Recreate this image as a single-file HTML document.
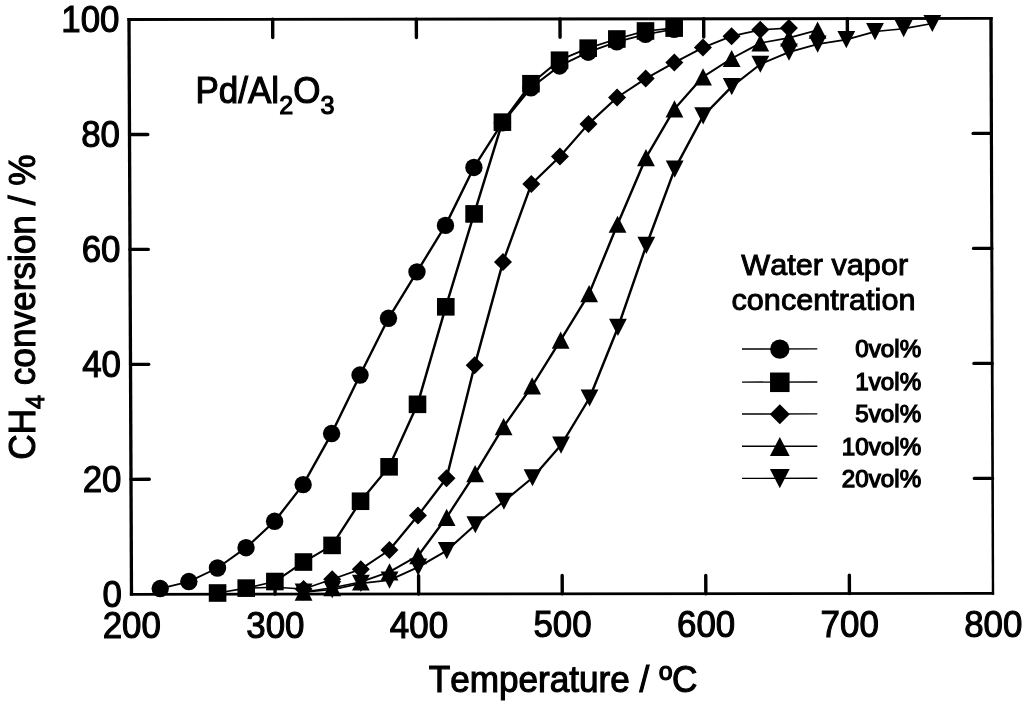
<!DOCTYPE html>
<html lang="en"><head><meta charset="utf-8"><title>CH4 conversion vs temperature over Pd/Al2O3</title>
<style>html,body{margin:0;padding:0;background:#fff}body{width:1024px;height:704px;overflow:hidden}svg{display:block;filter:blur(0.45px)}text{font-kerning:none;font-family:"Liberation Sans",sans-serif;fill:#000;stroke:#000;stroke-width:1.0px}</style></head><body>
<svg width="1024" height="704" viewBox="0 0 1024 704">
<rect x="0" y="0" width="1024" height="704" fill="#fff"/>
<g fill="#000"><polygon points="127.4,18.05 992.6,16.95 992.6,19.85 127.4,20.95"/><polygon points="129.9,592.95 994.1,592.1 994.1,594.7 129.9,595.65"/><polygon points="127.35,18.1 130.65,18.1 133.15,595.6 129.85,595.6"/><polygon points="989.3,17 992.7,17 994.2,594.7 991.8,594.7"/></g>
<g stroke="#000" stroke-width="3.4" stroke-linecap="round" fill="none"><line x1="272.67" y1="19.32" x2="272.74" y2="37.61"/><line x1="275.08" y1="594.15" x2="275.01" y2="575.86"/><line x1="416.33" y1="19.13" x2="416.41" y2="37.43"/><line x1="418.67" y1="594" x2="418.59" y2="575.7"/><line x1="560" y1="18.95" x2="560.07" y2="37.25"/><line x1="562.25" y1="593.85" x2="562.18" y2="575.55"/><line x1="703.67" y1="18.77" x2="703.74" y2="37.06"/><line x1="705.83" y1="593.7" x2="705.76" y2="575.4"/><line x1="847.33" y1="18.58" x2="847.4" y2="36.88"/><line x1="849.42" y1="593.55" x2="849.35" y2="575.25"/><line x1="131" y1="479.34" x2="149.29" y2="479.32"/><line x1="992.6" y1="478.4" x2="974.31" y2="478.42"/><line x1="130.5" y1="364.38" x2="148.79" y2="364.36"/><line x1="992.2" y1="363.4" x2="973.91" y2="363.42"/><line x1="130" y1="249.42" x2="148.3" y2="249.4"/><line x1="991.8" y1="248.4" x2="973.5" y2="248.42"/><line x1="129.5" y1="134.46" x2="147.8" y2="134.44"/><line x1="991.4" y1="133.4" x2="973.1" y2="133.42"/></g>
<g fill="none" stroke="#000" stroke-linecap="round"><path stroke-width="1.74" d="M160.21 588.53L188.86 581.53"/><path stroke-width="1.93" d="M188.86 581.53L217.47 568"/><path stroke-width="2.08" d="M217.47 568L246.05 547.69"/><path stroke-width="2.18" d="M246.05 547.69L274.62 521.31"/><path stroke-width="2.29" d="M274.62 521.31L303.14 484.61"/><path stroke-width="2.37" d="M303.14 484.61L331.6 433.57"/><path stroke-width="2.4" d="M331.6 433.57L360.03 375.07"/><path stroke-width="2.39" d="M360.03 375.07L388.48 318.29"/><path stroke-width="2.35" d="M388.48 318.29L416.97 271.84"/><path stroke-width="2.35" d="M416.97 271.84L445.46 225.39"/><path stroke-width="2.4" d="M445.46 225.39L473.91 167.46"/><path stroke-width="2.34" d="M473.91 167.46L502.42 122.73"/><path stroke-width="2.27" d="M502.42 122.73L530.96 87.75"/><path stroke-width="2.11" d="M530.96 87.75L559.56 65.95"/><path stroke-width="1.93" d="M559.56 65.95L588.2 52.19"/><path stroke-width="1.84" d="M588.2 52.19L616.84 41.87"/><path stroke-width="1.75" d="M616.84 41.87L645.5 34.41"/><path stroke-width="1.68" d="M645.5 34.41L674.17 29.25"/></g><g fill="#000"><circle cx="160.21" cy="588.53" r="8.7"/><circle cx="188.86" cy="581.53" r="8.7"/><circle cx="217.47" cy="568" r="8.7"/><circle cx="246.05" cy="547.69" r="8.7"/><circle cx="274.62" cy="521.31" r="8.7"/><circle cx="303.14" cy="484.61" r="8.7"/><circle cx="331.6" cy="433.57" r="8.7"/><circle cx="360.03" cy="375.07" r="8.7"/><circle cx="388.48" cy="318.29" r="8.7"/><circle cx="416.97" cy="271.84" r="8.7"/><circle cx="445.46" cy="225.39" r="8.7"/><circle cx="473.91" cy="167.46" r="8.7"/><circle cx="502.42" cy="122.73" r="8.7"/><circle cx="530.96" cy="87.75" r="8.7"/><circle cx="559.56" cy="65.95" r="8.7"/><circle cx="588.2" cy="52.19" r="8.7"/><circle cx="616.84" cy="41.87" r="8.7"/><circle cx="645.5" cy="34.41" r="8.7"/><circle cx="674.17" cy="29.25" r="8.7"/></g>
<g fill="none" stroke="#000" stroke-linecap="round"><path stroke-width="1.67" d="M217.58 593L246.23 588.13"/><path stroke-width="1.72" d="M246.23 588.13L274.87 581.53"/><path stroke-width="2.06" d="M274.87 581.53L303.46 562.03"/><path stroke-width="2" d="M303.46 562.03L332.06 545.4"/><path stroke-width="2.34" d="M332.06 545.4L360.55 501.24"/><path stroke-width="2.27" d="M360.55 501.24L389.09 466.83"/><path stroke-width="2.41" d="M389.09 466.83L417.51 404.32"/><path stroke-width="2.46" d="M417.51 404.32L445.79 306.82"/><path stroke-width="2.46" d="M445.79 306.82L474.1 213.92"/><path stroke-width="2.46" d="M474.1 213.92L502.41 122.16"/><path stroke-width="2.3" d="M502.41 122.16L530.95 83.73"/><path stroke-width="2.14" d="M530.95 83.73L559.54 60.22"/><path stroke-width="1.89" d="M559.54 60.22L588.18 48.17"/><path stroke-width="1.81" d="M588.18 48.17L616.83 39"/><path stroke-width="1.77" d="M616.83 39L645.49 30.97"/><path stroke-width="1.6" d="M645.49 30.97L674.16 28.1"/></g><g fill="#000"><rect x="208.78" y="584.2" width="17.6" height="17.6"/><rect x="237.43" y="579.33" width="17.6" height="17.6"/><rect x="266.07" y="572.73" width="17.6" height="17.6"/><rect x="294.66" y="553.23" width="17.6" height="17.6"/><rect x="323.26" y="536.6" width="17.6" height="17.6"/><rect x="351.75" y="492.44" width="17.6" height="17.6"/><rect x="380.29" y="458.03" width="17.6" height="17.6"/><rect x="408.71" y="395.52" width="17.6" height="17.6"/><rect x="436.99" y="298.02" width="17.6" height="17.6"/><rect x="465.3" y="205.12" width="17.6" height="17.6"/><rect x="493.61" y="113.36" width="17.6" height="17.6"/><rect x="522.15" y="74.93" width="17.6" height="17.6"/><rect x="550.74" y="51.42" width="17.6" height="17.6"/><rect x="579.38" y="39.37" width="17.6" height="17.6"/><rect x="608.03" y="30.2" width="17.6" height="17.6"/><rect x="636.69" y="22.17" width="17.6" height="17.6"/><rect x="665.36" y="19.3" width="17.6" height="17.6"/></g>
<g fill="none" stroke="#000" stroke-linecap="round"><path stroke-width="1.53" d="M246.23 588.13L274.89 587.26"/><path stroke-width="1.56" d="M274.89 587.26L303.57 588.99"/><path stroke-width="1.82" d="M303.57 588.99L332.2 579.24"/><path stroke-width="1.83" d="M332.2 579.24L360.83 569.2"/><path stroke-width="2.06" d="M360.83 569.2L389.42 549.99"/><path stroke-width="2.27" d="M389.42 549.99L417.96 515.58"/><path stroke-width="2.29" d="M417.96 515.58L446.48 478.3"/><path stroke-width="2.47" d="M446.48 478.3L474.7 365.32"/><path stroke-width="2.46" d="M474.7 365.32L502.97 262.09"/><path stroke-width="2.44" d="M502.97 262.09L531.34 184.09"/><path stroke-width="2.19" d="M531.34 184.09L559.92 156.57"/><path stroke-width="2.25" d="M559.92 156.57L588.47 123.88"/><path stroke-width="2.18" d="M588.47 123.88L617.06 97.5"/><path stroke-width="2.05" d="M617.06 97.5L645.67 78.57"/><path stroke-width="1.99" d="M645.67 78.57L674.29 62.51"/><path stroke-width="1.96" d="M674.29 62.51L702.92 47.6"/><path stroke-width="1.87" d="M702.92 47.6L731.57 36.13"/><path stroke-width="1.71" d="M731.57 36.13L760.23 29.82"/><path stroke-width="1.56" d="M760.23 29.82L788.91 28.1"/></g><g fill="#000"><polygon points="303.57,579.99 312.57,588.99 303.57,597.99 294.57,588.99"/><polygon points="332.2,570.24 341.2,579.24 332.2,588.24 323.2,579.24"/><polygon points="360.83,560.2 369.83,569.2 360.83,578.2 351.83,569.2"/><polygon points="389.42,540.99 398.42,549.99 389.42,558.99 380.42,549.99"/><polygon points="417.96,506.58 426.96,515.58 417.96,524.58 408.96,515.58"/><polygon points="446.48,469.3 455.48,478.3 446.48,487.3 437.48,478.3"/><polygon points="474.7,356.32 483.7,365.32 474.7,374.32 465.7,365.32"/><polygon points="502.97,253.09 511.97,262.09 502.97,271.09 493.97,262.09"/><polygon points="531.34,175.09 540.34,184.09 531.34,193.09 522.34,184.09"/><polygon points="559.92,147.57 568.92,156.57 559.92,165.57 550.92,156.57"/><polygon points="588.47,114.88 597.47,123.88 588.47,132.88 579.47,123.88"/><polygon points="617.06,88.5 626.06,97.5 617.06,106.5 608.06,97.5"/><polygon points="645.67,69.57 654.67,78.57 645.67,87.57 636.67,78.57"/><polygon points="674.29,53.51 683.29,62.51 674.29,71.51 665.29,62.51"/><polygon points="702.92,38.6 711.92,47.6 702.92,56.6 693.92,47.6"/><polygon points="731.57,27.13 740.57,36.13 731.57,45.13 722.57,36.13"/><polygon points="760.23,20.82 769.23,29.82 760.23,38.82 751.23,29.82"/><polygon points="788.91,19.1 797.91,28.1 788.91,37.1 779.91,28.1"/></g>
<g fill="none" stroke="#000" stroke-linecap="round"><path stroke-width="1.65" d="M303.58 592.08L332.24 587.72"/><path stroke-width="1.7" d="M332.24 587.72L360.88 581.99"/><path stroke-width="1.84" d="M360.88 581.99L389.51 571.78"/><path stroke-width="1.99" d="M389.51 571.78L418.12 555.72"/><path stroke-width="2.3" d="M418.12 555.72L446.64 517.3"/><path stroke-width="2.34" d="M446.64 517.3L475.14 473.71"/><path stroke-width="2.36" d="M475.14 473.71L503.62 426.69"/><path stroke-width="2.32" d="M503.62 426.69L532.14 385.97"/><path stroke-width="2.35" d="M532.14 385.97L560.64 340.09"/><path stroke-width="2.35" d="M560.64 340.09L589.13 293.63"/><path stroke-width="2.43" d="M589.13 293.63L617.55 224.24"/><path stroke-width="2.42" d="M617.55 224.24L645.97 157.71"/><path stroke-width="2.36" d="M645.97 157.71L674.47 108.97"/><path stroke-width="2.25" d="M674.47 108.97L703.03 76.85"/><path stroke-width="2.04" d="M703.03 76.85L731.65 58.5"/><path stroke-width="1.98" d="M731.65 58.5L760.28 43.01"/><path stroke-width="1.68" d="M760.28 43.01L788.95 37.85"/><path stroke-width="1.76" d="M788.95 37.85L817.61 30.11"/></g><g fill="#000"><polygon points="303.58,583.48 312.48,600.68 294.68,600.68"/><polygon points="332.24,579.12 341.14,596.32 323.34,596.32"/><polygon points="360.88,573.39 369.78,590.59 351.98,590.59"/><polygon points="389.51,563.18 398.41,580.38 380.61,580.38"/><polygon points="418.12,547.12 427.02,564.32 409.22,564.32"/><polygon points="446.64,508.7 455.54,525.9 437.74,525.9"/><polygon points="475.14,465.11 484.04,482.31 466.24,482.31"/><polygon points="503.62,418.08 512.52,435.29 494.72,435.29"/><polygon points="532.14,377.37 541.04,394.57 523.24,394.57"/><polygon points="560.64,331.49 569.54,348.69 551.74,348.69"/><polygon points="589.13,285.03 598.03,302.23 580.23,302.23"/><polygon points="617.55,215.64 626.45,232.84 608.65,232.84"/><polygon points="645.97,149.11 654.87,166.31 637.07,166.31"/><polygon points="674.47,100.37 683.37,117.57 665.57,117.57"/><polygon points="703.03,68.25 711.93,85.45 694.13,85.45"/><polygon points="731.65,49.9 740.55,67.1 722.75,67.1"/><polygon points="760.28,34.41 769.18,51.61 751.38,51.61"/><polygon points="788.95,29.25 797.85,46.45 780.05,46.45"/><polygon points="817.61,21.51 826.51,38.71 808.71,38.71"/></g>
<g fill="none" stroke="#000" stroke-linecap="round"><path stroke-width="1.59" d="M303.58 592.2L332.24 589.56"/><path stroke-width="1.71" d="M332.24 589.56L360.89 583.42"/><path stroke-width="1.62" d="M360.89 583.42L389.55 580.1"/><path stroke-width="1.91" d="M389.55 580.1L418.17 567.19"/><path stroke-width="2" d="M418.17 567.19L446.77 550.56"/><path stroke-width="2.17" d="M446.77 550.56L475.34 524.75"/><path stroke-width="2.14" d="M475.34 524.75L503.92 501.24"/><path stroke-width="2.14" d="M503.92 501.24L532.5 477.73"/><path stroke-width="2.25" d="M532.5 477.73L561.05 445.04"/><path stroke-width="2.36" d="M561.05 445.04L589.54 398.01"/><path stroke-width="2.43" d="M589.54 398.01L617.94 327.47"/><path stroke-width="2.45" d="M617.94 327.47L646.31 245.46"/><path stroke-width="2.44" d="M646.31 245.46L674.7 169.18"/><path stroke-width="2.38" d="M674.7 169.18L703.18 115.85"/><path stroke-width="2.22" d="M703.18 115.85L731.76 86.6"/><path stroke-width="2.12" d="M731.76 86.6L760.36 64.23"/><path stroke-width="1.89" d="M760.36 64.23L789 52.19"/><path stroke-width="1.77" d="M789 52.19L817.66 44.16"/><path stroke-width="1.66" d="M817.66 44.16L846.33 39.57"/><path stroke-width="1.77" d="M846.33 39.57L874.99 31.54"/><path stroke-width="1.6" d="M874.99 31.54L903.66 28.68"/><path stroke-width="1.68" d="M903.66 28.68L932.33 23.51"/></g><g fill="#000"><polygon points="303.58,600.8 312.48,583.6 294.68,583.6"/><polygon points="332.24,598.16 341.14,580.96 323.34,580.96"/><polygon points="360.89,592.02 369.79,574.82 351.99,574.82"/><polygon points="389.55,588.7 398.45,571.5 380.65,571.5"/><polygon points="418.17,575.79 427.07,558.59 409.27,558.59"/><polygon points="446.77,559.16 455.67,541.96 437.87,541.96"/><polygon points="475.34,533.35 484.24,516.15 466.44,516.15"/><polygon points="503.92,509.84 512.82,492.64 495.02,492.64"/><polygon points="532.5,486.33 541.4,469.13 523.6,469.13"/><polygon points="561.05,453.64 569.95,436.44 552.15,436.44"/><polygon points="589.54,406.61 598.44,389.41 580.64,389.41"/><polygon points="617.94,336.07 626.84,318.87 609.04,318.87"/><polygon points="646.31,254.06 655.21,236.86 637.41,236.86"/><polygon points="674.7,177.78 683.6,160.58 665.8,160.58"/><polygon points="703.18,124.45 712.08,107.25 694.28,107.25"/><polygon points="731.76,95.2 740.66,78 722.86,78"/><polygon points="760.36,72.83 769.26,55.63 751.46,55.63"/><polygon points="789,60.79 797.9,43.59 780.1,43.59"/><polygon points="817.66,52.76 826.56,35.56 808.76,35.56"/><polygon points="846.33,48.17 855.23,30.97 837.43,30.97"/><polygon points="874.99,40.14 883.89,22.94 866.09,22.94"/><polygon points="903.66,37.28 912.56,20.08 894.76,20.08"/><polygon points="932.33,32.11 941.23,14.91 923.43,14.91"/></g>
<text transform="translate(131.8 637.9) scale(1 1.06)" font-size="34.9" text-anchor="middle" style="stroke-width:1.05px">200</text>
<text transform="translate(275.38 637.75) scale(1 1.06)" font-size="34.9" text-anchor="middle" style="stroke-width:1.05px">300</text>
<text transform="translate(418.97 637.6) scale(1 1.06)" font-size="34.9" text-anchor="middle" style="stroke-width:1.05px">400</text>
<text transform="translate(562.55 637.45) scale(1 1.06)" font-size="34.9" text-anchor="middle" style="stroke-width:1.05px">500</text>
<text transform="translate(706.13 637.3) scale(1 1.06)" font-size="34.9" text-anchor="middle" style="stroke-width:1.05px">600</text>
<text transform="translate(849.72 637.15) scale(1 1.06)" font-size="34.9" text-anchor="middle" style="stroke-width:1.05px">700</text>
<text transform="translate(993.3 637) scale(1 1.06)" font-size="34.9" text-anchor="middle" style="stroke-width:1.05px">800</text>
<text transform="translate(122 606.9) scale(1 1.06)" font-size="34.9" text-anchor="end" style="stroke-width:1.05px">0</text>
<text transform="translate(121.5 491.94) scale(1 1.06)" font-size="34.9" text-anchor="end" style="stroke-width:1.05px">20</text>
<text transform="translate(121 376.98) scale(1 1.06)" font-size="34.9" text-anchor="end" style="stroke-width:1.05px">40</text>
<text transform="translate(120.5 262.02) scale(1 1.06)" font-size="34.9" text-anchor="end" style="stroke-width:1.05px">60</text>
<text transform="translate(120 147.06) scale(1 1.06)" font-size="34.9" text-anchor="end" style="stroke-width:1.05px">80</text>
<text transform="translate(119.5 32.1) scale(1 1.06)" font-size="34.9" text-anchor="end" style="stroke-width:1.05px">100</text>
<text transform="translate(563 692.2) scale(1 1.03)" font-size="35.15" text-anchor="middle" style="stroke-width:1.1px">Temperature / ºC</text>
<text transform="translate(34.5 307.1) rotate(-90) scale(1 1.03)" font-size="35.2" text-anchor="middle" style="stroke-width:1.1px">CH<tspan font-size="25" dy="9.6">4</tspan><tspan dy="-9.6"> conversion / %</tspan></text>
<text transform="translate(195.5 103.4) scale(1 1.03)" font-size="35" text-anchor="start" style="stroke-width:1.1px">Pd/Al<tspan font-size="25.2" dy="10.1">2</tspan><tspan dy="-10.1">O</tspan><tspan font-size="25.2" dy="10.1">3</tspan></text>
<text transform="translate(824.7 275.4) scale(1 0.97)" font-size="30.65" text-anchor="middle">Water vapor</text>
<text transform="translate(823.5 310.2) scale(1 0.97)" font-size="30.65" text-anchor="middle">concentration</text>
<line x1="742" y1="349" x2="817.3" y2="348.9" stroke="#000" stroke-width="1.4"/>
<g fill="#000" transform="translate(779.8 349.2) scale(1.11) translate(-779.8 -349)"><circle cx="779.8" cy="349" r="8.7"/></g>
<text transform="translate(921.2 357.2) scale(1 1)" font-size="24.2" text-anchor="end" style="stroke-width:1.25px">0vol%</text>
<line x1="742" y1="382.1" x2="817.3" y2="382" stroke="#000" stroke-width="1.4"/>
<g fill="#000" transform="translate(779.8 382.3) scale(1.11) translate(-779.8 -382.1)"><rect x="771" y="373.3" width="17.6" height="17.6"/></g>
<text transform="translate(921.2 390.3) scale(1 1)" font-size="24.2" text-anchor="end" style="stroke-width:1.25px">1vol%</text>
<line x1="742" y1="414" x2="817.3" y2="413.9" stroke="#000" stroke-width="1.4"/>
<g fill="#000" transform="translate(779.8 414.2) scale(1.11) translate(-779.8 -414)"><polygon points="779.8,405 788.8,414 779.8,423 770.8,414"/></g>
<text transform="translate(921.2 422.2) scale(1 1)" font-size="24.2" text-anchor="end" style="stroke-width:1.25px">5vol%</text>
<line x1="742" y1="446.3" x2="817.3" y2="446.2" stroke="#000" stroke-width="1.4"/>
<g fill="#000" transform="translate(779.8 446.5) scale(1.11) translate(-779.8 -446.3)"><polygon points="779.8,437.7 788.7,454.9 770.9,454.9"/></g>
<text transform="translate(921.2 454.5) scale(1 1)" font-size="24.2" text-anchor="end" style="stroke-width:1.25px">10vol%</text>
<line x1="742" y1="478.4" x2="817.3" y2="478.3" stroke="#000" stroke-width="1.4"/>
<g fill="#000" transform="translate(779.8 478.6) scale(1.11) translate(-779.8 -478.4)"><polygon points="779.8,487 788.7,469.8 770.9,469.8"/></g>
<text transform="translate(921.2 486.6) scale(1 1)" font-size="24.2" text-anchor="end" style="stroke-width:1.25px">20vol%</text>
</svg></body></html>
